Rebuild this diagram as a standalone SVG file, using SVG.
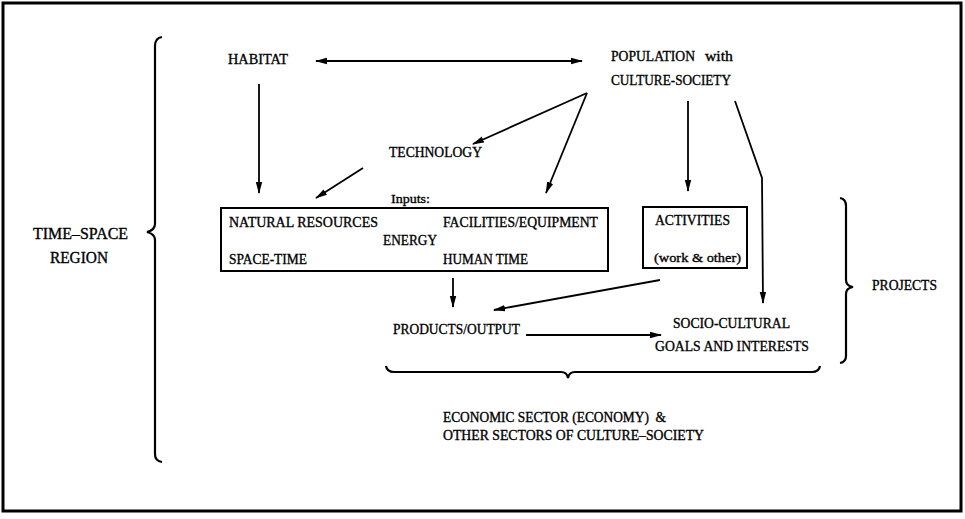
<svg xmlns="http://www.w3.org/2000/svg" width="965" height="519" viewBox="0 0 965 519">
<defs>
<marker id="ah" viewBox="0 0 12 8" refX="11" refY="4" markerWidth="12" markerHeight="8" markerUnits="userSpaceOnUse" orient="auto-start-reverse">
<path d="M0,0.8 L12,4 L0,7.2 Z" fill="#000"/>
</marker>
</defs>
<style>
text{font-family:"Liberation Serif","Times New Roman",serif;font-size:15px;fill:#000;stroke:#000;stroke-width:0.35px}
.big{font-size:16px}
.sm{font-size:13.5px}
.sec{font-size:14px}
.arr{fill:none;stroke:#000;stroke-width:1.8;marker-end:url(#ah)}
.box{fill:none;stroke:#000;stroke-width:2}
.br{fill:none;stroke:#000;stroke-width:2.2}
</style>
<rect x="0" y="0" width="965" height="519" fill="#fff"/>
<rect id="frame" x="3" y="3" width="958" height="508" fill="none" stroke="#000" stroke-width="3"/>

<g id="region">
<path class="br" d="M162,37 Q155,38 155,46 L155,224 Q155,230 147,232 Q155,234 155,240 L155,454 Q155,461 162,462"/>
<text class="big" x="33" y="239" textLength="95" lengthAdjust="spacingAndGlyphs">TIME–SPACE</text>
<text class="big" x="50" y="263" textLength="58" lengthAdjust="spacingAndGlyphs">REGION</text>
</g>

<g id="habitat"><text x="228" y="64" textLength="60" lengthAdjust="spacingAndGlyphs">HABITAT</text></g>

<g id="population">
<text x="611" y="61" textLength="84" lengthAdjust="spacingAndGlyphs">POPULATION</text>
<text x="705" y="61" textLength="28" lengthAdjust="spacingAndGlyphs">with</text>
<text x="611" y="85" textLength="120" lengthAdjust="spacingAndGlyphs">CULTURE-SOCIETY</text>
</g>

<g id="technology"><text x="389" y="157" textLength="93" lengthAdjust="spacingAndGlyphs">TECHNOLOGY</text></g>

<g id="inputs">
<text class="sm" x="391" y="203" textLength="39" lengthAdjust="spacingAndGlyphs">Inputs:</text>
<rect class="box" x="221" y="208" width="387" height="63"/>
<text x="229" y="227" textLength="149" lengthAdjust="spacingAndGlyphs">NATURAL RESOURCES</text>
<text x="443" y="227" textLength="155" lengthAdjust="spacingAndGlyphs">FACILITIES/EQUIPMENT</text>
<text x="383" y="245" textLength="54" lengthAdjust="spacingAndGlyphs">ENERGY</text>
<text x="229" y="264" textLength="78" lengthAdjust="spacingAndGlyphs">SPACE-TIME</text>
<text x="443" y="264" textLength="85" lengthAdjust="spacingAndGlyphs">HUMAN TIME</text>
</g>

<g id="activities">
<rect class="box" x="643" y="207" width="104" height="61"/>
<text x="655" y="225" textLength="75" lengthAdjust="spacingAndGlyphs">ACTIVITIES</text>
<text class="sm" x="654" y="262" textLength="87" lengthAdjust="spacingAndGlyphs">(work &amp; other)</text>
</g>

<g id="products"><text x="393" y="334" textLength="127" lengthAdjust="spacingAndGlyphs">PRODUCTS/OUTPUT</text></g>

<g id="goals">
<text x="673" y="328" textLength="117" lengthAdjust="spacingAndGlyphs">SOCIO-CULTURAL</text>
<text x="655" y="351" textLength="154" lengthAdjust="spacingAndGlyphs">GOALS AND INTERESTS</text>
</g>

<g id="projects">
<path class="br" d="M840,198 Q846,199 846,206 L846,280 Q846,286 853,287 Q846,288 846,294 L846,356 Q846,362 840,363"/>
<text x="872" y="290" textLength="65" lengthAdjust="spacingAndGlyphs">PROJECTS</text>
</g>

<g id="sectors">
<path class="br" d="M386,366 Q387,372 394,372 L561,372 Q567,372 568,378 Q569,372 575,372 L812,372 Q819,372 820,366"/>
<text class="sec" x="443" y="422" textLength="223" lengthAdjust="spacingAndGlyphs">ECONOMIC SECTOR (ECONOMY)&#160; &amp;</text>
<text class="sec" x="443" y="440" textLength="261" lengthAdjust="spacingAndGlyphs">OTHER SECTORS OF CULTURE–SOCIETY</text>
</g>

<g id="connectors">
<line class="arr" x1="316" y1="61" x2="582" y2="61" style="marker-start:url(#ah)"/>
<line class="arr" x1="259" y1="84" x2="259" y2="193"/>
<line class="arr" x1="587" y1="93" x2="473" y2="144"/>
<line class="arr" x1="587" y1="93" x2="546" y2="193"/>
<line class="arr" x1="363" y1="168" x2="316" y2="198"/>
<line class="arr" x1="688" y1="101" x2="688" y2="191"/>
<polyline class="arr" points="735,101 762,178 763,303"/>
<line class="arr" x1="453" y1="278" x2="453" y2="307"/>
<line class="arr" x1="660" y1="280" x2="494" y2="310"/>
<line class="arr" x1="526" y1="335" x2="661" y2="335"/>
</g>
</svg>
